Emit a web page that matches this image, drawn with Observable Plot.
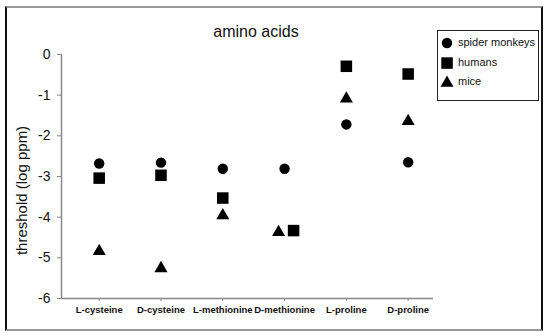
<!DOCTYPE html>
<html>
<head>
<meta charset="utf-8">
<script src="https://cdn.jsdelivr.net/npm/d3@7"></script>
<script src="https://cdn.jsdelivr.net/npm/@observablehq/plot@0.6"></script>
<style>
  html, body { margin: 0; padding: 0; background: #fff; }
  #wrap { position: relative; width: 551px; height: 336px; overflow: hidden; font-family: Arial, "Liberation Sans", sans-serif; }
  #border { position: absolute; left: 5px; top: 6px; width: 534px; height: 321px;
            border-left: 2px solid #111; border-right: 2px solid #111;
            border-top: 2px solid #999; border-bottom: 2px solid #999; }
  #title { position: absolute; left: 0; width: 512px; top: 23px; text-align: center; font-size: 16px; color: #111; }
  #legend { position: absolute; left: 437px; top: 30px; width: 100px; height: 69px; border: 1.5px solid #222; background: #fff; }
  .item { position: absolute; left: 0; height: 19px; font-size: 11px; color: #111; line-height: 19px; white-space: nowrap; }
  .item svg { position: absolute; left: 1px; top: 2px; }
  .item span { position: absolute; left: 20px; }
  #chart { position: absolute; left: 0; top: 0; }
</style>
</head>
<body>
<div id="wrap">
  <div id="border"></div>
  <div id="chart"></div>
  <div id="title">amino acids</div>
  <div id="legend"></div>
</div>
<script>
// Taste thresholds per compound (log ppm)
const categories = ["L-cysteine", "D-cysteine", "L-methionine", "D-methionine", "L-proline", "D-proline"];
const seriesNames = ["spider monkeys", "humans", "mice"];
const seriesSymbols = ["circle", "square", "triangle"];
const spiderMonkeys = [-2.68, -2.66, -2.81, -2.81, -1.72, -2.65];
const humans = [-3.04, -2.97, -3.53, -4.33, -0.29, -0.48];
const mice = [-4.84, -5.26, -3.96, -4.37, -1.09, -1.64];
const yTicks = [0, -1, -2, -3, -4, -5, -6];

const seriesValues = [spiderMonkeys, humans, mice];
const symbolSize = {circle: 5.2, square: 6.5, triangle: 4.85};
// overlapping markers at D-methionine are pushed sideways
const nudge = {humans: {"D-methionine": 9}, mice: {"D-methionine": -6}};

const rows = seriesNames.flatMap((s, k) =>
  categories.map((c, i) => ({series: s, symbol: seriesSymbols[k], category: c, index: i, value: seriesValues[k][i]}))
);

const xDomain = [-0.61, 5.41];
const yDomain = [-6, 0];

const dotMarks = seriesNames.flatMap((s, k) => {
  const offs = nudge[s] || {};
  const sub = rows.filter(d => d.series === s);
  const plain = sub.filter(d => !(d.category in offs));
  const opts = {x: "index", y: "value", symbol: () => seriesSymbols[k], r: symbolSize[seriesSymbols[k]], fill: "#000", stroke: "none"};
  const marks = [Plot.dot(plain, opts)];
  for (const [cat, dx] of Object.entries(offs)) {
    marks.push(Plot.dot(sub.filter(d => d.category === cat), {...opts, dx}));
  }
  return marks;
});

const chart = Plot.plot({
  width: 551,
  height: 336,
  marginTop: 54,
  marginBottom: 38,
  marginLeft: 61,
  marginRight: 118,
  style: {fontFamily: "Arial, 'Liberation Sans', sans-serif", background: "transparent", color: "#111"},
  x: {domain: xDomain, axis: null},
  y: {domain: yDomain, axis: null},
  symbol: {type: "identity"},
  marks: [
    Plot.ruleY([yDomain[0]], {stroke: "#888", strokeWidth: 1.5}),
    Plot.ruleX([xDomain[0]], {stroke: "#888", strokeWidth: 1.5}),
    Plot.axisY({ticks: yTicks, tickFormat: d => String(d), tickSize: 4, tickPadding: 7, fontSize: 14, label: null, stroke: "#888", fill: "#111"}),
    Plot.axisX({ticks: d3.range(categories.length), tickFormat: i => categories[i], tickSize: 3, tickPadding: 5, fontSize: 9.5, fontWeight: "bold", label: null, stroke: "#888", fill: "#111"}),
    Plot.text(["threshold (log ppm)"], {frameAnchor: "left", textAnchor: "middle", rotate: -90, dx: -39, dy: 14, fontSize: 15, fill: "#111"}),
    ...dotMarks
  ]
});
document.getElementById("chart").appendChild(chart);

// legend
const legend = document.getElementById("legend");
const shapes = {
  circle: '<circle cx="8" cy="8" r="5.2" fill="#000"/>',
  square: '<rect x="2.3" y="2.3" width="11.5" height="11.5" fill="#000"/>',
  triangle: '<path d="M8,1.5L14.5,12.8L1.5,12.8Z" fill="#000"/>'
};
seriesNames.forEach((s, k) => {
  const div = document.createElement("div");
  div.className = "item";
  div.style.top = (2 + k * 19.5) + "px";
  div.innerHTML = `<svg width="16" height="16">${shapes[seriesSymbols[k]]}</svg><span>${s}</span>`;
  legend.appendChild(div);
});
</script>
</body>
</html>
